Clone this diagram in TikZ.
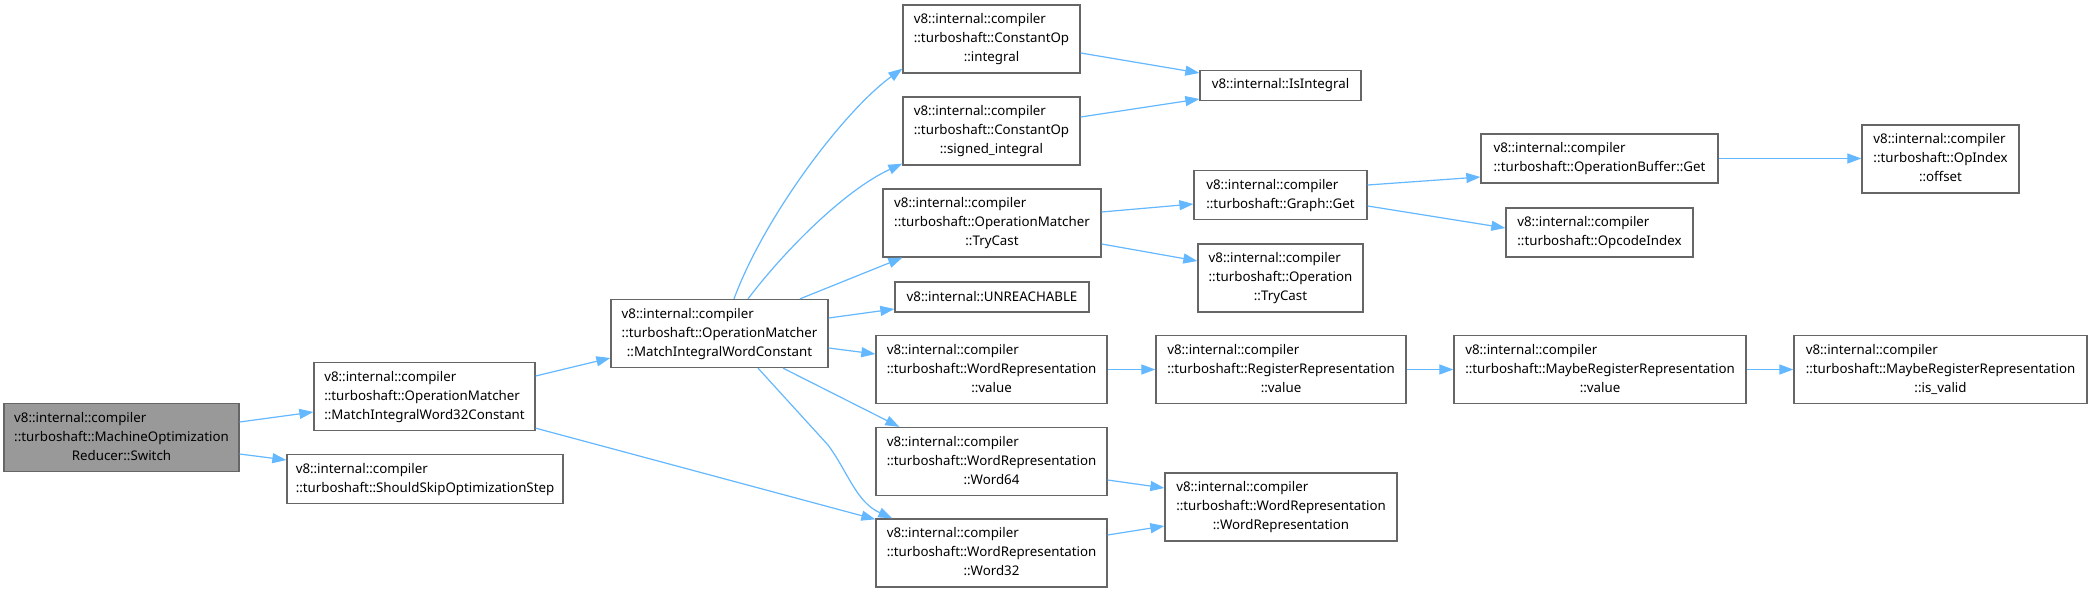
\documentclass[tikz,border=0pt]{standalone}
\usepackage{fontspec}
\setmainfont{Noto Sans}
\usetikzlibrary{arrows.meta,calc}

\definecolor{edgeblue}{HTML}{63B8FF}
\definecolor{boxgray}{HTML}{666666}
\definecolor{hlgray}{HTML}{999999}

% three line label: two left lines, last one centred
\newcommand{\fnthree}[3]{\begin{tabular}{@{}l@{}}#1\\#2\\\multicolumn{1}{@{}c@{}}{#3}\end{tabular}}
\newcommand{\fntwo}[2]{\begin{tabular}{@{}l@{}}#1\\#2\end{tabular}}

\tikzset{
  fn/.style={draw=boxgray,line width=1.3pt,fill=white,inner xsep=4pt,inner ysep=0pt,
    font=\fontsize{13.3}{19}\selectfont},
  fnhl/.style={fn,fill=hlgray},
  tall/.style={minimum height=68pt},
  mid/.style={minimum height=49pt},
  low/.style={minimum height=30pt},
  call/.style={draw=edgeblue,line width=1.2pt,-{Triangle[length=14pt,width=10pt]}}
}

\begin{document}
\begin{tikzpicture}[x=1pt,y=-1pt]
    \fill[white] (0,0) rectangle (2092,593);
    \useasboundingbox (0,0) rectangle (2092,593);
    % column 1
    \node[fnhl,tall,minimum width=235pt] (sw) at (121.5,437.5)
      {\fnthree{v8::internal::compiler}{::turboshaft::MachineOptimization}{Reducer::Switch}};
    % column 2
    \node[fn,tall,minimum width=221pt] (m32) at (424.5,396.5)
      {\fnthree{v8::internal::compiler}{::turboshaft::OperationMatcher}{::MatchIntegralWord32Constant}};
    \node[fn,mid,minimum width=276pt] (sks) at (425,479)
      {\fntwo{v8::internal::compiler}{::turboshaft::ShouldSkipOptimizationStep}};
    % column 3
    \node[fn,tall,minimum width=217pt] (mwc) at (719.5,333.5)
      {\fnthree{v8::internal::compiler}{::turboshaft::OperationMatcher}{::MatchIntegralWordConstant}};
    % column 4
    \node[fn,tall,minimum width=177pt] (cint) at (991.5,39)
      {\fnthree{v8::internal::compiler}{::turboshaft::ConstantOp}{::integral}};
    \node[fn,tall,minimum width=177pt] (csig) at (991.5,131)
      {\fnthree{v8::internal::compiler}{::turboshaft::ConstantOp}{::signed\_integral}};
    \node[fn,tall,minimum width=218pt] (omtc) at (992,223)
      {\fnthree{v8::internal::compiler}{::turboshaft::OperationMatcher}{::TryCast}};
    \node[fn,low,minimum width=194pt] (unr) at (992,297) {v8::internal::UNREACHABLE};
    \node[fn,tall,minimum width=231pt] (wrv) at (991.5,369.5)
      {\fnthree{v8::internal::compiler}{::turboshaft::WordRepresentation}{::value}};
    \node[fn,tall,minimum width=231pt] (w64) at (991.5,461.5)
      {\fnthree{v8::internal::compiler}{::turboshaft::WordRepresentation}{::Word64}};
    \node[fn,tall,minimum width=231pt] (w32) at (991.5,553)
      {\fnthree{v8::internal::compiler}{::turboshaft::WordRepresentation}{::Word32}};
    % column 5
    \node[fn,low,minimum width=161pt] (isi) at (1280.5,85.5) {v8::internal::IsIntegral};
    \node[fn,mid,minimum width=173pt] (gget) at (1280.5,195)
      {\fntwo{v8::internal::compiler}{::turboshaft::Graph::Get}};
    \node[fn,tall,minimum width=165pt] (optc) at (1280.5,278)
      {\fnthree{v8::internal::compiler}{::turboshaft::Operation}{::TryCast}};
    \node[fn,tall,minimum width=250pt] (rrv) at (1281,369.5)
      {\fnthree{v8::internal::compiler}{::turboshaft::RegisterRepresentation}{::value}};
    \node[fn,tall,minimum width=232pt] (wrw) at (1281,507)
      {\fnthree{v8::internal::compiler}{::turboshaft::WordRepresentation}{::WordRepresentation}};
    % column 6
    \node[fn,mid,minimum width=237pt] (obg) at (1599.5,158.5)
      {\fntwo{v8::internal::compiler}{::turboshaft::OperationBuffer::Get}};
    \node[fn,mid,minimum width=187pt] (opci) at (1599.5,232.5)
      {\fntwo{v8::internal::compiler}{::turboshaft::OpcodeIndex}};
    \node[fn,tall,minimum width=292pt] (mrv) at (1600,369.5)
      {\fnthree{v8::internal::compiler}{::turboshaft::MaybeRegisterRepresentation}{::value}};
    % column 7
    \node[fn,tall,minimum width=157pt] (offs) at (1940.5,159)
      {\fnthree{v8::internal::compiler}{::turboshaft::OpIndex}{::offset}};
    \node[fn,tall,minimum width=293pt] (isv) at (1940.5,369.5)
      {\fnthree{v8::internal::compiler}{::turboshaft::MaybeRegisterRepresentation}{::is\_valid}};

    % calls from Switch
    \draw[call] ($(sw.east)+(0,-15.5)$) -- ($(m32.west)+(0,15.5)$);
    \draw[call] ($(sw.east)+(0,16.5)$) -- ($(sks.west)+(0,-19)$);
    % calls from MatchIntegralWord32Constant
    \draw[call] ($(m32.east)+(0,-20.5)$) -- ($(mwc.west)+(0,24.5)$);
    \draw[call] ($(m32.south east)+(0,-3)$) -- ($(w32.north west)+(0,1)$);
    % calls from MatchIntegralWordConstant
    \draw[call] ($(mwc.north)+(14.5,0)$) .. controls (765,215) and (845,110) .. ($(cint.south west)+(0,-5)$);
    \draw[call] ($(mwc.north)+(28.5,0)$) .. controls (785,250) and (845,190) .. ($(csig.south west)+(0,-2)$);
    \draw[call] ($(mwc.north)+(80.5,0)$) -- ($(omtc.south west)+(20,0)$);
    \draw[call] ($(mwc.east)+(0,-15.5)$) -- ($(unr.west)+(0,12)$);
    \draw[call] ($(mwc.east)+(0,14.5)$) -- ($(wrv.west)+(0,-15.5)$);
    \draw[call] ($(mwc.south)+(63.5,0)$) -- ($(w64.north west)+(24,0)$);
    \draw[call] ($(mwc.south)+(38.5,0)$) -- (828,445) .. controls (848,472) and (856,502) .. ($(w32.north west)+(17,0)$);
    % column 4 to column 5
    \draw[call] ($(cint.east)+(0,14)$) -- ($(isi.west)+(0,-12.5)$);
    \draw[call] ($(csig.east)+(0,-14)$) -- ($(isi.west)+(0,13.5)$);
    \draw[call] ($(omtc.east)+(0,-11)$) -- ($(gget.west)+(0,9)$);
    \draw[call] ($(omtc.east)+(0,21)$) -- ($(optc.west)+(0,-17)$);
    \draw[call] (wrv.east) -- (rrv.west);
    \draw[call] ($(w64.east)+(0,18.5)$) -- ($(wrw.west)+(0,-19)$);
    \draw[call] ($(w32.east)+(0,-18)$) -- ($(wrw.west)+(0,19)$);
    % further right
    \draw[call] ($(gget.east)+(0,-10)$) -- ($(obg.west)+(0,18.5)$);
    \draw[call] ($(gget.east)+(0,11)$) -- ($(opci.west)+(0,-4.5)$);
    \draw[call] (rrv.east) -- (mrv.west);
    \draw[call] (obg.east) -- (obg.east -| offs.west);
    \draw[call] (mrv.east) -- (isv.west);
\end{tikzpicture}
\end{document}
